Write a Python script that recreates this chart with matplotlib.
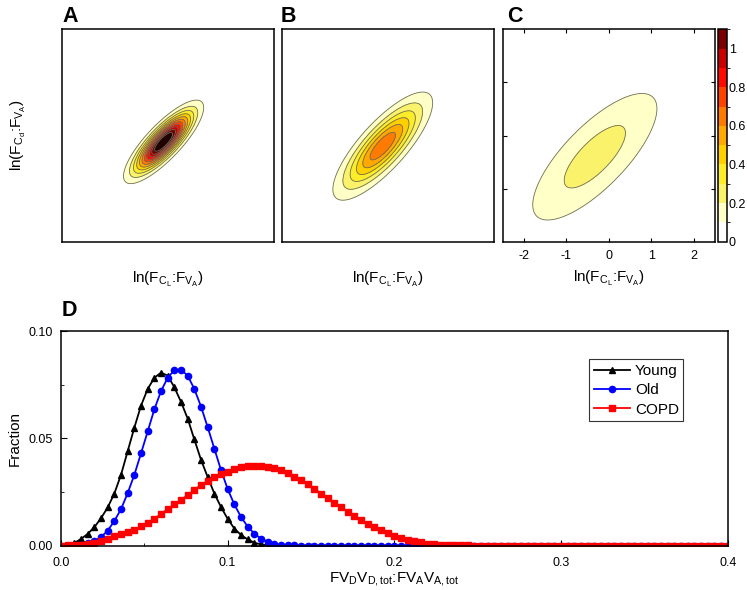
import numpy as np
import matplotlib
matplotlib.use("Agg")
import matplotlib.pyplot as plt
from matplotlib.colors import ListedColormap, BoundaryNorm
from matplotlib.cm import ScalarMappable

plt.rcParams['font.family'] = ['Liberation Sans', 'DejaVu Sans']
plt.rcParams['mathtext.fontset'] = 'custom'
plt.rcParams['mathtext.rm'] = 'Liberation Sans'
plt.rcParams['mathtext.it'] = 'Liberation Sans'
plt.rcParams['mathtext.default'] = 'regular'
plt.rcParams['axes.unicode_minus'] = False

# ---- panel D data (fraction vs ratio, step 0.004) ----
ratio = np.round(np.arange(101) * 0.004, 3)
young = [0.0000, 0.0004, 0.0013, 0.0031, 0.0055, 0.0086, 0.0128, 0.0178, 0.0243, 0.0330,
         0.0440, 0.0550, 0.0652, 0.0730, 0.0782, 0.0806, 0.0792, 0.0738, 0.0670, 0.0592,
         0.0495, 0.0400, 0.0320, 0.0243, 0.0180, 0.0125, 0.0080, 0.0050, 0.0029, 0.0014,
         0.0006, 0.0002, 0.0001] + [0.0] * 68
old = [0.0000, 0.0000, 0.0002, 0.0005, 0.0011, 0.0022, 0.0040, 0.0070, 0.0115, 0.0170,
       0.0245, 0.0330, 0.0430, 0.0532, 0.0635, 0.0720, 0.0782, 0.0818, 0.0820, 0.0792,
       0.0730, 0.0648, 0.0552, 0.0452, 0.0352, 0.0264, 0.0192, 0.0134, 0.0089, 0.0056,
       0.0033, 0.0018, 0.0009, 0.0004, 0.0002, 0.0001] + [0.0] * 65
copd = [0.0000, 0.0001, 0.0003, 0.0005, 0.0009, 0.0014, 0.0023, 0.0033, 0.0043, 0.0053,
        0.0064, 0.0075, 0.0090, 0.0105, 0.0125, 0.0148, 0.0170, 0.0192, 0.0213, 0.0236,
        0.0260, 0.0283, 0.0302, 0.0318, 0.0333, 0.0345, 0.0356, 0.0365, 0.0370, 0.0372,
        0.0372, 0.0368, 0.0361, 0.0351, 0.0338, 0.0322, 0.0305, 0.0288, 0.0266, 0.0243,
        0.0222, 0.0201, 0.0180, 0.0158, 0.0138, 0.0118, 0.0101, 0.0086, 0.0071, 0.0058,
        0.0047, 0.0037, 0.0028, 0.0021, 0.0015, 0.0010, 0.0007, 0.0004, 0.0003, 0.0002,
        0.0001, 0.0001] + [0.0] * 39

# ---- panels A-C: bivariate log-normal parameters ----
panel_names = ["A", "B", "C"]
peak = [1.25, 0.68, 0.25]
center_x = [-0.10, -0.12, -0.33]
center_y = [-0.12, -0.20, -0.40]
sigma_x = [0.42, 0.60, 1.08]
sigma_y = [0.35, 0.52, 0.88]
rho = [0.82, 0.80, 0.76]

levels = [0, 0.1, 0.2, 0.3, 0.4, 0.5, 0.6, 0.7, 0.8, 0.9, 1.0, 1.1, 1.3]
level_colors = ['#ffffff', '#ffffc8', '#fbf26c', '#fdec2a', '#ffd000', '#ffa800',
                '#ff7a00', '#ff4400', '#ff0a00', '#c80000', '#780000', '#200000']
cbar_ticks = [0, 0.2, 0.4, 0.6, 0.8, 1]
cbar_ticklabels = ['0', '0.2', '0.4', '0.6', '0.8', '1']

W, H = 747, 590
fig = plt.figure(figsize=(W / 100, H / 100), dpi=100)

def box(l, t, r, b):
    return [l / W, 1 - b / H, (r - l) / W, (b - t) / H]

gx = np.linspace(-2.5, 2.5, 401)
gy = np.linspace(-2.0, 2.0, 321)
X, Y = np.meshgrid(gx, gy)

lefts = [61.7, 281.7, 502.7]
letter_x = [62, 281, 507]
for i in range(3):
    ax = fig.add_axes(box(lefts[i], 29.3, lefts[i] + 212.3, 241.7))
    dx = (X - center_x[i]) / sigma_x[i]
    dy = (Y - center_y[i]) / sigma_y[i]
    q = (dx ** 2 - 2 * rho[i] * dx * dy + dy ** 2) / (1 - rho[i] ** 2)
    Z = peak[i] * np.exp(-0.5 * q)
    ax.contourf(X, Y, Z, levels=levels, colors=level_colors)
    ax.contour(X, Y, Z, levels=levels[1:-1], colors='#6e6e5a', linewidths=0.6)
    ax.set_xlim(-2.5, 2.5)
    ax.set_ylim(-2, 2)
    for s in ax.spines.values():
        s.set_linewidth(1.1)
    ax.set_xlabel(r'ln(F$_{C_L}$:F$_{V_A}$)', fontsize=11, labelpad=20)
    if i < 2:
        ax.set_xticks([])
        ax.set_yticks([])
    else:
        ax.set_xticks([-2, -1, 0, 1, 2])
        ax.set_yticks([-1, 0, 1])
        ax.set_yticklabels([])
        ax.tick_params(direction='in', top=True, right=True, length=3, labelsize=9, pad=6)
        ax.xaxis.labelpad = 5
    if i == 0:
        ax.set_ylabel(r'ln(F$_{C_d}$:F$_{V_A}$)', fontsize=11, labelpad=24)
    fig.text(letter_x[i] / W, 1 - 21.7 / H, panel_names[i], fontsize=15.5, fontweight='bold',
             va='baseline', ha='left')

cax = fig.add_axes(box(717.7, 29.3, 726.7, 241.7))
cmap = ListedColormap(level_colors[:11])
norm = BoundaryNorm(levels[:12], cmap.N)
cb = fig.colorbar(ScalarMappable(norm=norm, cmap=cmap), cax=cax, ticks=cbar_ticks)
cb.ax.set_yticklabels(cbar_ticklabels)
cb.ax.tick_params(length=0, labelsize=9, pad=1.5)
cb.outline.set_linewidth(1.1)

# ---- panel D ----
axd = fig.add_axes(box(61, 331, 727.7, 545.7))
axd.plot(ratio, young, color='black', marker='^', markersize=4.5, linewidth=1.3, label='Young')
axd.plot(ratio, old, color='#0000ff', marker='o', markersize=4.5, linewidth=1.3, label='Old')
axd.plot(ratio, copd, color='#ff0000', marker='s', markersize=4, linewidth=1.3, label='COPD')
axd.set_xlim(0, 0.4)
axd.set_ylim(0, 0.1)
axd.set_xticks([0, 0.1, 0.2, 0.3, 0.4])
axd.set_xticklabels(['0.0', '0.1', '0.2', '0.3', '0.4'])
axd.set_xticks([0.05, 0.15, 0.25, 0.35], minor=True)
axd.set_yticks([0, 0.05, 0.1])
axd.set_yticklabels(['0.00', '0.05', '0.10'])
axd.set_yticks([0.025, 0.075], minor=True)
axd.tick_params(which='major', direction='in', length=4, labelsize=9)
axd.tick_params(axis='x', which='major', pad=8)
axd.tick_params(axis='y', which='major', pad=6)
axd.tick_params(which='minor', direction='in', length=2.5)
for s in axd.spines.values():
    s.set_linewidth(1.1)
axd.set_ylabel('Fraction', fontsize=11, labelpad=5)
axd.set_xlabel(r'FV$_D$V$_{D,tot}$:FV$_A$V$_{A,tot}$', fontsize=11, labelpad=1)
leg = axd.legend(loc='upper left', bbox_to_anchor=(0.792, 0.868), borderaxespad=0,
                 fancybox=False, edgecolor='black', fontsize=11, handlelength=2.4,
                 handletextpad=0.3, borderpad=0.3, labelspacing=0.35)
leg.get_frame().set_linewidth(0.8)
fig.text(62 / W, 1 - 316 / H, 'D', fontsize=15.5, fontweight='bold', va='baseline', ha='left')

fig.savefig('out.png', dpi=100)
